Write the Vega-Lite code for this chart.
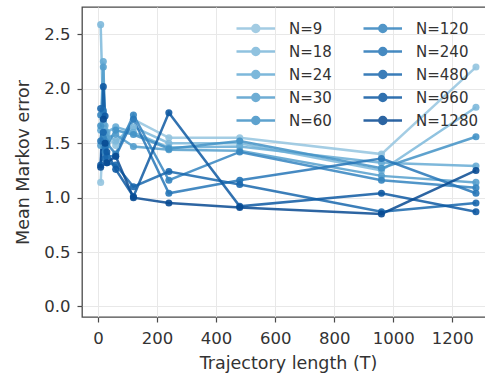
{
  "$schema": "https://vega.github.io/schema/vega-lite/v6.json",
  "width": 404,
  "height": 310,
  "autosize": {"type": "none"},
  "padding": {"left": 82, "top": 7, "right": 0, "bottom": 58},
  "config": {
    "font": "DejaVu Sans",
    "view": {"stroke": "#4a4a4a", "strokeWidth": 1.3},
    "axis": {
      "gridColor": "#e8e8e8",
      "gridWidth": 1,
      "domain": false,
      "tickColor": "#4a4a4a",
      "tickSize": 5,
      "tickWidth": 1.2,
      "labelFontSize": 16.5,
      "labelColor": "#333333",
      "titleFontSize": 17.5,
      "titleFontWeight": "normal",
      "titleColor": "#333333"
    }
  },
  "data": {
    "values": [
      {"N": "N=9", "T": 9, "err": 1.14}, {"N": "N=9", "T": 18, "err": 1.62}, {"N": "N=9", "T": 24, "err": 1.58}, {"N": "N=9", "T": 30, "err": 1.55}, {"N": "N=9", "T": 60, "err": 1.48}, {"N": "N=9", "T": 120, "err": 1.72}, {"N": "N=9", "T": 240, "err": 1.55}, {"N": "N=9", "T": 480, "err": 1.55}, {"N": "N=9", "T": 960, "err": 1.40}, {"N": "N=9", "T": 1280, "err": 2.20},
      {"N": "N=18", "T": 9, "err": 2.59}, {"N": "N=18", "T": 18, "err": 1.70}, {"N": "N=18", "T": 24, "err": 1.62}, {"N": "N=18", "T": 30, "err": 1.58}, {"N": "N=18", "T": 60, "err": 1.52}, {"N": "N=18", "T": 120, "err": 1.65}, {"N": "N=18", "T": 240, "err": 1.50}, {"N": "N=18", "T": 480, "err": 1.50}, {"N": "N=18", "T": 960, "err": 1.25}, {"N": "N=18", "T": 1280, "err": 1.83},
      {"N": "N=24", "T": 9, "err": 1.62}, {"N": "N=24", "T": 18, "err": 2.25}, {"N": "N=24", "T": 24, "err": 1.66}, {"N": "N=24", "T": 30, "err": 1.60}, {"N": "N=24", "T": 60, "err": 1.65}, {"N": "N=24", "T": 120, "err": 1.60}, {"N": "N=24", "T": 240, "err": 1.46}, {"N": "N=24", "T": 480, "err": 1.47}, {"N": "N=24", "T": 960, "err": 1.32}, {"N": "N=24", "T": 1280, "err": 1.29},
      {"N": "N=30", "T": 9, "err": 1.48}, {"N": "N=30", "T": 18, "err": 2.20}, {"N": "N=30", "T": 24, "err": 1.60}, {"N": "N=30", "T": 30, "err": 1.55}, {"N": "N=30", "T": 60, "err": 1.58}, {"N": "N=30", "T": 120, "err": 1.47}, {"N": "N=30", "T": 240, "err": 1.44}, {"N": "N=30", "T": 480, "err": 1.43}, {"N": "N=30", "T": 960, "err": 1.20}, {"N": "N=30", "T": 1280, "err": 1.14},
      {"N": "N=60", "T": 9, "err": 1.66}, {"N": "N=60", "T": 18, "err": 1.78}, {"N": "N=60", "T": 24, "err": 1.52}, {"N": "N=60", "T": 30, "err": 1.48}, {"N": "N=60", "T": 60, "err": 1.62}, {"N": "N=60", "T": 120, "err": 1.58}, {"N": "N=60", "T": 240, "err": 1.45}, {"N": "N=60", "T": 480, "err": 1.52}, {"N": "N=60", "T": 960, "err": 1.27}, {"N": "N=60", "T": 1280, "err": 1.56},
      {"N": "N=120", "T": 9, "err": 1.76}, {"N": "N=120", "T": 18, "err": 1.55}, {"N": "N=120", "T": 24, "err": 1.42}, {"N": "N=120", "T": 30, "err": 1.50}, {"N": "N=120", "T": 60, "err": 1.40}, {"N": "N=120", "T": 120, "err": 1.76}, {"N": "N=120", "T": 240, "err": 1.16}, {"N": "N=120", "T": 480, "err": 1.42}, {"N": "N=120", "T": 960, "err": 1.16}, {"N": "N=120", "T": 1280, "err": 1.09},
      {"N": "N=240", "T": 9, "err": 1.52}, {"N": "N=240", "T": 18, "err": 1.80}, {"N": "N=240", "T": 24, "err": 1.46}, {"N": "N=240", "T": 30, "err": 1.38}, {"N": "N=240", "T": 60, "err": 1.38}, {"N": "N=240", "T": 120, "err": 1.72}, {"N": "N=240", "T": 240, "err": 1.04}, {"N": "N=240", "T": 480, "err": 1.16}, {"N": "N=240", "T": 960, "err": 1.36}, {"N": "N=240", "T": 1280, "err": 1.04},
      {"N": "N=480", "T": 9, "err": 1.82}, {"N": "N=480", "T": 18, "err": 1.60}, {"N": "N=480", "T": 24, "err": 1.36}, {"N": "N=480", "T": 30, "err": 1.32}, {"N": "N=480", "T": 60, "err": 1.30}, {"N": "N=480", "T": 120, "err": 1.10}, {"N": "N=480", "T": 240, "err": 1.24}, {"N": "N=480", "T": 480, "err": 1.12}, {"N": "N=480", "T": 960, "err": 0.87}, {"N": "N=480", "T": 1280, "err": 0.95},
      {"N": "N=960", "T": 9, "err": 1.30}, {"N": "N=960", "T": 18, "err": 2.02}, {"N": "N=960", "T": 24, "err": 1.75}, {"N": "N=960", "T": 30, "err": 1.42}, {"N": "N=960", "T": 60, "err": 1.26}, {"N": "N=960", "T": 120, "err": 1.01}, {"N": "N=960", "T": 240, "err": 1.78}, {"N": "N=960", "T": 480, "err": 0.92}, {"N": "N=960", "T": 960, "err": 1.04}, {"N": "N=960", "T": 1280, "err": 0.87},
      {"N": "N=1280", "T": 9, "err": 1.28}, {"N": "N=1280", "T": 18, "err": 1.72}, {"N": "N=1280", "T": 24, "err": 1.50}, {"N": "N=1280", "T": 30, "err": 1.32}, {"N": "N=1280", "T": 60, "err": 1.38}, {"N": "N=1280", "T": 120, "err": 1.00}, {"N": "N=1280", "T": 240, "err": 0.95}, {"N": "N=1280", "T": 480, "err": 0.91}, {"N": "N=1280", "T": 960, "err": 0.85}, {"N": "N=1280", "T": 1280, "err": 1.25}
    ]
  },
  "mark": {"type": "line", "strokeWidth": 2.5, "opacity": 0.85, "point": {"filled": true, "size": 50, "opacity": 0.9}},
  "encoding": {
    "x": {
      "field": "T", "type": "quantitative",
      "scale": {"domain": [-54.2, 1314], "nice": false, "zero": false},
      "axis": {"values": [0, 200, 400, 600, 800, 1000, 1200], "format": "d", "title": "Trajectory length (T)", "titleX": 206, "labelPadding": 8, "titlePadding": 8}
    },
    "y": {
      "field": "err", "type": "quantitative",
      "scale": {"domain": [-0.097, 2.752], "nice": false, "zero": false},
      "axis": {"values": [0, 0.5, 1, 1.5, 2, 2.5], "format": ".1f", "title": "Mean Markov error", "labelPadding": 7, "titlePadding": 11}
    },
    "color": {
      "field": "N", "type": "nominal",
      "scale": {
        "domain": ["N=9", "N=18", "N=24", "N=30", "N=60", "N=120", "N=240", "N=480", "N=960", "N=1280"],
        "range": ["#94c4df", "#7db8da", "#67acd5", "#559fcd", "#4292c6", "#3484bf", "#2676b7", "#1967ad", "#0e59a2", "#084a92"]
      },
      "legend": {
        "orient": "none", "legendX": 188, "legendY": 14, "columns": 2, "title": null, "padding": 0,
        "symbolType": "M-8.2,0L-0.5,0M-5.04,0A0.7,0.7,0,1,0,-3.64,0A0.7,0.7,0,1,0,-5.04,0Z",
        "symbolSize": 100, "symbolStrokeWidth": 2.5, "symbolOpacity": 0.85,
        "labelFontSize": 15, "labelOffset": 4, "labelColor": "#333333",
        "rowPadding": 6, "columnPadding": 26,
        "encode": {"symbols": {"update": {"fill": {"scale": "color", "field": "value"}}}}
      }
    }
  }
}
